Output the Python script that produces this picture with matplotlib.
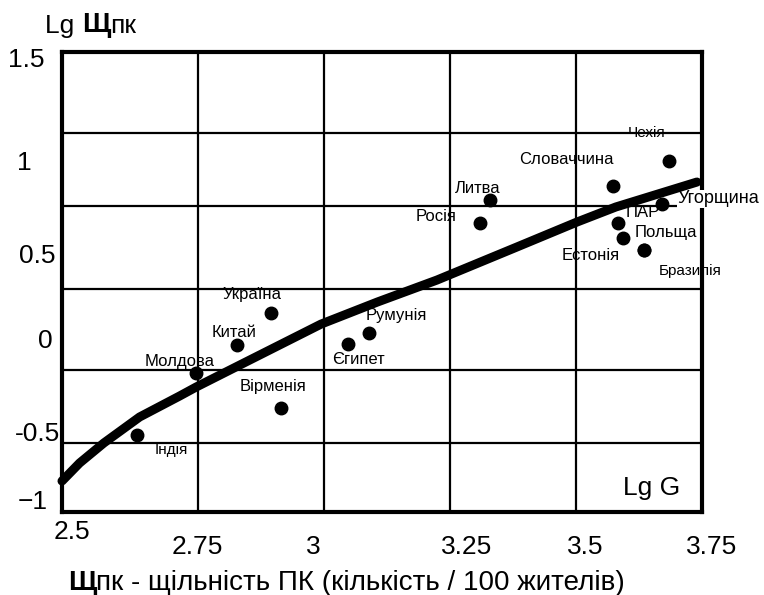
import matplotlib
matplotlib.use("Agg")
import matplotlib.pyplot as plt

plt.rcParams['font.family'] = ['Liberation Sans', 'DejaVu Sans']

# ---- data ----
countries = ["Україна", "Китай", "Молдова", "Вірменія", "Індія", "Єгипет", "Румунія",
             "Литва", "Росія", "Словаччина", "Чехія", "Угорщина", "ПАР", "Естонія",
             "Польща", "Бразилія"]
x_vals = [2.895, 2.827, 2.746, 2.915, 2.628, 3.047, 3.090,
          3.329, 3.309, 3.573, 3.685, 3.671, 3.583, 3.594, 3.634, 3.634]
y_vals = [0.125, -0.056, -0.215, -0.412, -0.565, -0.051, 0.012,
          0.763, 0.633, 0.843, 0.984, 0.741, 0.633, 0.549, 0.481, 0.481]

curve_x = [2.48, 2.515, 2.563, 2.634, 2.713, 2.746, 2.817, 2.994,
           3.106, 3.224, 3.382, 3.502, 3.579, 3.74]
curve_y = [-0.825, -0.723, -0.610, -0.463, -0.345, -0.294, -0.192, 0.062,
           0.187, 0.311, 0.497, 0.639, 0.724, 0.865]

xtick_vals = [2.5, 2.75, 3, 3.25, 3.5, 3.75]
xtick_labels = ["2.5", "2.75", "3", "3.25", "3.5", "3.75"]
ytick_vals = [1.5, 1, 0.5, 0, -0.5, -1]
ytick_labels = ["1.5", "1", "0.5", "0", "-0.5", "\u22121"]
xgrid = [2.75, 3.0, 3.25, 3.5]
ygrid = [1.142, 0.729, 0.260, -0.198, -0.610]

# ---- layout (pixel offsets of labels) ----
xlab_dx = [0, -1, -11, 17, 9, 10]
xlab_dy = [20, 35, 35, 35, 35, 35]
ylab_dx = [-17, -30, -7, -9, -2, -14]
ylab_dy = [-10, 5, 9, 6, 10, -10]
pt_dx = [-19, -3, -16, -8, 35, 11, 27, -12, -44, -46, -23, 56, 25, -33, 22, 47]
pt_dy = [-18, -12, -12, -21, 15, 15, -17, -12, -7, -26, -28, -5, -11, 18, -17, 21]
pt_fs = [12, 12, 12, 12, 11, 12, 12, 12, 12, 12, 11, 13, 12, 12, 12, 11]

W, H = 764, 595
fig = plt.figure(figsize=(W / 100, H / 100), dpi=100)
ax = fig.add_axes([62 / W, 1 - 512 / H, 640 / W, 460 / H])
ax.set_xlim(2.48, 3.74)
ax.set_ylim(-1.0, 1.6)

for s in ax.spines.values():
    s.set_linewidth(3.0)
    s.set_color('black')
    s.set_zorder(4)

ax.set_xticks(xtick_vals)
ax.set_yticks(ytick_vals)
ax.tick_params(length=0, labelbottom=False, labelleft=False)

for g in xgrid:
    ax.axvline(g, color='black', lw=1.6, zorder=3.5)
for g in ygrid:
    ax.axhline(g, color='black', lw=1.6, zorder=3.5)

# tick labels
for v, lab, dx, dy in zip(xtick_vals, xtick_labels, xlab_dx, xlab_dy):
    ax.annotate(lab, xy=(v, 0), xycoords=('data', 'axes fraction'),
                xytext=(dx, -dy), textcoords='offset pixels',
                ha='center', va='center', fontsize=19, annotation_clip=False)
for v, lab, dx, dy in zip(ytick_vals, ytick_labels, ylab_dx, ylab_dy):
    ax.annotate(lab, xy=(0, v), xycoords=('axes fraction', 'data'),
                xytext=(dx, -dy), textcoords='offset pixels',
                ha='right', va='center', fontsize=19, annotation_clip=False)

# curve
ax.plot(curve_x, curve_y, color='black', lw=6.5, solid_capstyle='round',
        solid_joinstyle='round', zorder=6, clip_on=False)

# points
ax.plot(x_vals, y_vals, 'o', color='black', ms=9, zorder=5, clip_on=False)

for name, xv, yv, dx, dy, fs in zip(countries, x_vals, y_vals, pt_dx, pt_dy, pt_fs):
    kw = {}
    if name == "Угорщина":
        kw['bbox'] = dict(facecolor='white', edgecolor='none', pad=0.5)
    ax.annotate(name, xy=(xv, yv), xytext=(dx, -dy), textcoords='offset pixels',
                ha='center', va='center', fontsize=fs, zorder=5, annotation_clip=False, **kw)

# Lg G inside
ax.annotate("Lg G", xy=(1, 0), xycoords='axes fraction', xytext=(-50, 24),
            textcoords='offset pixels', ha='center', va='center', fontsize=19)

# y-axis title: Lg Щпк
t1 = fig.text(45 / W, 1 - 33 / H, "Lg ", fontsize=19, ha='left', va='baseline')
t2 = ax.annotate("Щ", xy=(1, 0), xycoords=t1, va='bottom', ha='left',
                 fontsize=20, fontweight='bold')
ax.annotate("пк", xy=(1, 0), xycoords=t2, va='bottom', ha='left', fontsize=19)

# x-axis title
t3 = fig.text(68 / W, 1 - 590 / H, "Щ", fontsize=20, fontweight='bold',
              ha='left', va='baseline')
ax.annotate("пк - щільність ПК (кількість / 100 жителів)", xy=(1, 0), xycoords=t3,
            va='bottom', ha='left', fontsize=20)

fig.savefig("out.png", dpi=100)
